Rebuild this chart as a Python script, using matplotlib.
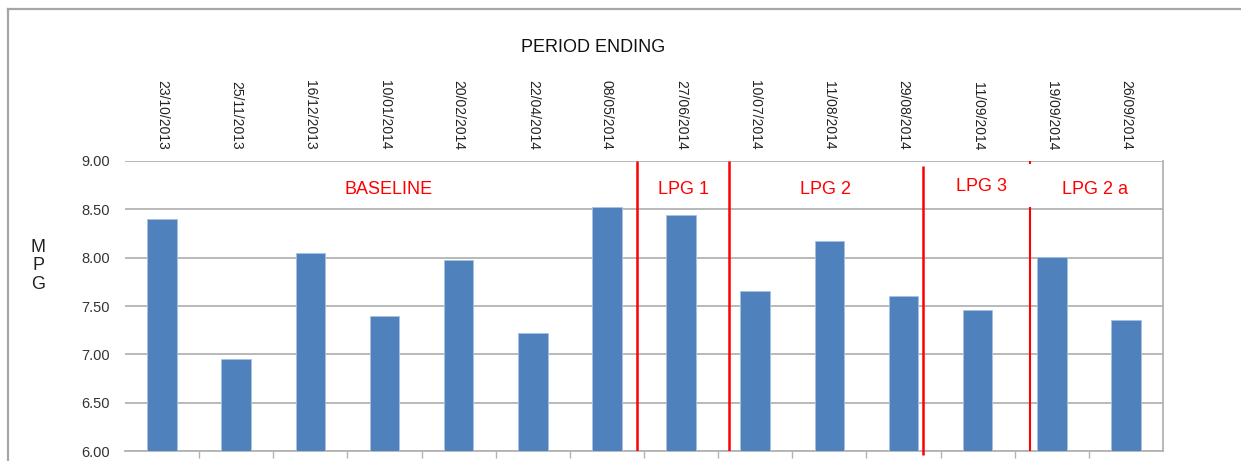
import matplotlib
matplotlib.use("Agg")
import matplotlib.pyplot as plt
from matplotlib.lines import Line2D

plt.rcParams['font.family'] = ['Liberation Sans', 'DejaVu Sans']

# ---- data ----
dates = ["23/10/2013", "25/11/2013", "16/12/2013", "10/01/2014", "20/02/2014",
         "22/04/2014", "08/05/2014", "27/06/2014", "10/07/2014", "11/08/2014",
         "29/08/2014", "11/09/2014", "19/09/2014", "26/09/2014"]
mpg = [8.40, 6.95, 8.05, 7.40, 7.98, 7.22, 8.52, 8.44, 7.65, 8.17, 7.60, 7.46, 8.01, 7.35]
yticks = [6.00, 6.50, 7.00, 7.50, 8.00, 8.50, 9.00]
phase_names = ["BASELINE", "LPG 1", "LPG 2", "LPG 3", "LPG 2 a"]
phase_x = [3.05, 7.03, 8.95, 11.05, 12.58]
phase_y = [8.71, 8.71, 8.71, 8.74, 8.71]
dividers = [6.40, 7.65, 10.26, 11.71]

W, H = 1241, 461
fig = plt.figure(figsize=(W / 100, H / 100), dpi=100)
ax = fig.add_axes([125 / W, 1 - 451 / H, (1163 - 125) / W, (451 - 161) / H])

x = list(range(len(dates)))
ax.bar(x, mpg, width=0.4, color="#4f81bd", edgecolor="#a9c1e0", linewidth=0.6, zorder=3)

ax.set_xlim(-0.5, len(dates) - 0.5)
ax.set_ylim(6.0, 9.0)
ax.set_yticks(yticks)
ax.set_yticklabels([f"{v:.2f}" for v in yticks])
ax.yaxis.grid(True, color="#b3b3b3", linewidth=1.3, zorder=0)
ax.set_axisbelow(True)

ax.set_xticks(x)
ax.set_xticklabels(dates, rotation=-90, fontsize=10, color="#222222")
ax.set_xticks([i - 0.5 for i in range(1, len(dates))], minor=True)
ax.tick_params(axis="x", which="major", top=False, bottom=False,
               labeltop=True, labelbottom=False, pad=8, length=0)
ax.tick_params(axis="x", which="minor", bottom=True, length=5, width=1, color="#b3b3b3")
ax.tick_params(axis="y", length=0, pad=11, labelsize=10.5, labelcolor="#333333")

for side in ["left", "top"]:
    ax.spines[side].set_visible(False)
for side in ["right", "bottom"]:
    ax.spines[side].set_color("#b3b3b3")
    ax.spines[side].set_linewidth(1.3)

# red phase dividers
ax.vlines(dividers[0], 6.0, 9.0, color="red", linewidth=1.8, zorder=4)
ax.vlines(dividers[1], 6.0, 9.0, color="red", linewidth=1.8, zorder=4)
ax.vlines(dividers[2], 5.96, 8.95, color="red", linewidth=1.8, zorder=4, clip_on=False)
ax.vlines(dividers[3], 6.0, 8.52, color="red", linewidth=1.5, zorder=4)
ax.vlines(dividers[3], 8.97, 9.0, color="red", linewidth=1.5, zorder=4)

for name, px, py in zip(phase_names, phase_x, phase_y):
    ax.text(px, py, name, color="red", fontsize=13, ha="center", va="center", zorder=5)

fig.text(593 / W, 1 - 47 / H, "PERIOD ENDING", fontsize=13, ha="center", va="center", color="#111111")
fig.text(38 / W, 1 - 266 / H, "M\nP\nG", fontsize=13, ha="center", va="center",
         linespacing=1.15, color="#222222")

# outer chart border
fig.add_artist(Line2D([8 / W, 1.0], [1 - 9 / H, 1 - 9 / H], transform=fig.transFigure,
                      color="#a6a6a6", linewidth=1.6))
fig.add_artist(Line2D([8 / W, 8 / W], [1 - 9 / H, 0.0], transform=fig.transFigure,
                      color="#a6a6a6", linewidth=1.6))

fig.savefig("out.png", dpi=100, facecolor="white")
